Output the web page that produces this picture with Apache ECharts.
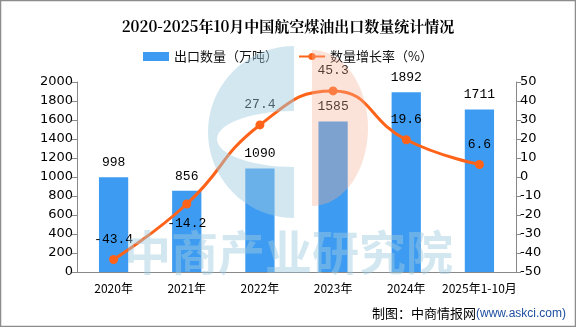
<!DOCTYPE html>
<html>
<head>
<meta charset="utf-8">
<script src="https://cdn.jsdelivr.net/npm/echarts@6/dist/echarts.min.js"></script>
<style>
html, body { margin: 0; padding: 0; background: #fff; }
#main { width: 576px; height: 327px; }
</style>
</head>
<body>
<div id="main"></div>
<script>
var categories = ["2020年", "2021年", "2022年", "2023年", "2024年", "2025年1-10月"];
var exportVolume = [998, 856, 1090, 1585, 1892, 1711];
var growthRate = [-43.4, -14.2, 27.4, 45.3, 19.6, 6.6];
var rateLabelPos = ["top", "bottom", "top", "top", "top", "top"];

var numFont = "'Liberation Mono', 'DejaVu Sans Mono', monospace";
var cjkFont = "'Noto Sans CJK SC', sans-serif";
var wmBlue = "rgba(160,202,224,0.46)";
var wmPeach = "rgba(245,175,145,0.35)";

// blue "G" part of the logo: outer left half circle with an oval bite
function logoBlue(cx, cy, r, hx, hy, rx, ry) {
    var pts = [], i, a;
    for (i = 0; i <= 40; i++) {
        a = -Math.PI / 2 - Math.PI * i / 40;
        pts.push([cx + r * Math.cos(a), cy - r * Math.sin(a)]);
    }
    pts.push([cx, hy + ry]);
    for (i = 0; i <= 30; i++) {
        a = -Math.PI / 2 - Math.PI * i / 30;
        pts.push([hx + rx * Math.cos(a), hy + ry * Math.sin(a)]);
    }
    return pts;
}

// peach part: right half oval
function logoPeach(cx, cy, rx, ry) {
    var pts = [], i, a;
    for (i = 0; i <= 40; i++) {
        a = -Math.PI / 2 + Math.PI * i / 40;
        pts.push([cx + rx * Math.cos(a), cy + ry * Math.sin(a)]);
    }
    return pts;
}

var chart = echarts.init(document.getElementById("main"));

var rateData = growthRate.map(function (v, i) {
    return { value: v, label: { position: rateLabelPos[i] } };
});

var plainNum = function (v) { return String(v); };

chart.setOption({
    backgroundColor: "#fff",
    animation: false,
    title: {
        text: "2020-2025年10月中国航空煤油出口数量统计情况",
        left: "center",
        top: 14,
        textStyle: { fontSize: 15, fontWeight: "bold", color: "#000", fontFamily: "'Noto Serif CJK SC', 'Noto Sans CJK SC', serif" }
    },
    legend: {
        top: 45,
        left: "center",
        itemGap: 20,
        itemWidth: 26,
        itemHeight: 9,
        textStyle: { fontSize: 13, color: "#111", fontFamily: cjkFont },
        data: [
            { name: "出口数量（万吨）", icon: "rect" },
            { name: "数量增长率（%）" }
        ]
    },
    grid: { left: 77, right: 60, top: 82, bottom: 55 },
    xAxis: {
        type: "category",
        data: categories,
        axisLine: { lineStyle: { color: "#888" } },
        axisTick: { lineStyle: { color: "#888" }, length: 5 },
        axisLabel: { interval: 0, color: "#000", fontSize: 12, margin: 10, fontFamily: cjkFont }
    },
    yAxis: [{
        type: "value",
        min: 0, max: 2000, interval: 200,
        axisLine: { show: true, lineStyle: { color: "#888" } },
        axisTick: { show: true, lineStyle: { color: "#888" }, length: 5 },
        splitLine: { show: false },
        axisLabel: { formatter: plainNum, color: "#000", fontSize: 13, margin: 4, fontFamily: "'DejaVu Sans', sans-serif" }
    }, {
        type: "value",
        min: -50, max: 50, interval: 10,
        axisLine: { show: true, lineStyle: { color: "#888" } },
        axisTick: { show: true, lineStyle: { color: "#888" }, length: 5 },
        splitLine: { show: false },
        axisLabel: { formatter: plainNum, color: "#000", fontSize: 13, margin: 4, fontFamily: "'DejaVu Sans', sans-serif" }
    }],
    graphic: [
        {
            type: "polygon", z: 100, silent: true,
            shape: { points: logoBlue(294, 132, 86, 294, 139, 77, 28) },
            style: { fill: wmBlue }
        },
        {
            type: "polygon", z: 100, silent: true,
            shape: { points: logoPeach(312, 128, 56, 78) },
            style: { fill: wmPeach }
        },
        {
            type: "text", z: 100, silent: true,
            left: 124, top: 229,
            style: {
                text: "中商产业研究院",
                font: "bold 47px 'Noto Sans CJK SC'",
                fill: wmBlue
            }
        },
        {
            type: "text", right: 10, top: 307,
            style: {
                text: "{a|制图：中商情报网}{b|(www.askci.com)}",
                rich: {
                    a: { fontSize: 13, fontFamily: cjkFont, fill: "#000", color: "#000" },
                    b: { fontSize: 12, fontFamily: "'Liberation Sans', sans-serif", fill: "#1f4fa0", color: "#1f4fa0" }
                }
            }
        },
        {
            type: "rect", silent: true,
            shape: { x: 0.5, y: 0.5, width: 575, height: 326 },
            style: { fill: "none", stroke: "#8c8c8c", lineWidth: 1.5 }
        }
    ],
    series: [{
        name: "出口数量（万吨）",
        type: "bar",
        data: exportVolume,
        barWidth: "40%",
        itemStyle: { color: "#3d9cf2" },
        label: {
            show: true, position: "top", distance: 8,
            color: "#000", fontSize: 13, fontFamily: numFont
        }
    }, {
        name: "数量增长率（%）",
        type: "line",
        yAxisIndex: 1,
        data: rateData,
        smooth: 0.5,
        symbol: "circle",
        symbolSize: 9,
        lineStyle: { color: "#ff6319", width: 3 },
        itemStyle: { color: "#ff6319" },
        label: {
            show: true, distance: 9,
            color: "#000", fontSize: 13, fontFamily: numFont
        }
    }]
});
</script>
</body>
</html>
